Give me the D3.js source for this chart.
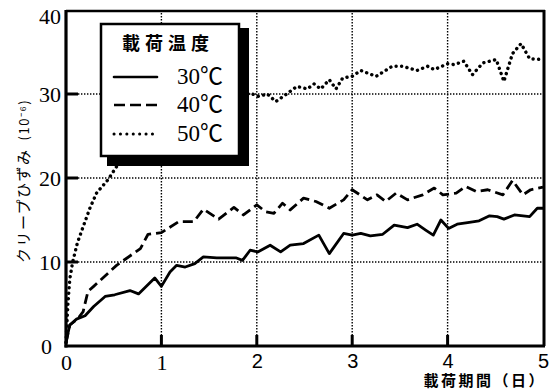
<!DOCTYPE html>
<html>
<head>
<meta charset="utf-8">
<script src="https://cdn.jsdelivr.net/npm/d3@7"></script>
<style>
  html, body { margin: 0; padding: 0; background: #fff; }
  svg { display: block; }
</style>
</head>
<body>
<svg id="chart" width="559" height="391"></svg>
<script>
// Creep strain (x10^-6) against loading period (days) at three temperatures
const days30 = [0, 0.02, 0.04, 0.11, 0.2, 0.29, 0.41, 0.51, 0.67, 0.76, 0.93, 1.0, 1.09, 1.16, 1.25, 1.35, 1.44, 1.58, 1.69, 1.78, 1.85, 1.93, 2.01, 2.14, 2.25, 2.35, 2.49, 2.65, 2.76, 2.91, 3.0, 3.09, 3.19, 3.32, 3.44, 3.58, 3.68, 3.77, 3.85, 3.93, 4.01, 4.10, 4.21, 4.33, 4.44, 4.52, 4.59, 4.70, 4.86, 4.94, 5.0];
const strain30 = [0.4, 1.5, 2.5, 3.2, 3.6, 4.7, 5.9, 6.1, 6.6, 6.2, 8.1, 7.1, 8.8, 9.6, 9.4, 9.8, 10.6, 10.5, 10.5, 10.5, 10.2, 11.4, 11.2, 12.0, 11.2, 12.0, 12.2, 13.2, 11.0, 13.4, 13.2, 13.4, 13.1, 13.3, 14.4, 14.1, 14.5, 13.8, 13.2, 15.0, 14.0, 14.5, 14.7, 14.9, 15.5, 15.4, 15.1, 15.6, 15.4, 16.4, 16.4];

const days40 = [0, 0.04, 0.12, 0.18, 0.23, 0.29, 0.53, 0.78, 0.86, 1.0, 1.18, 1.34, 1.44, 1.60, 1.76, 1.86, 2.0, 2.09, 2.18, 2.27, 2.35, 2.49, 2.62, 2.76, 2.91, 3.0, 3.16, 3.26, 3.35, 3.46, 3.58, 3.74, 3.86, 3.95, 4.09, 4.19, 4.30, 4.42, 4.58, 4.68, 4.79, 4.87, 5.0];
const strain40 = [0.4, 2.5, 3.2, 4.1, 6.5, 7.1, 9.6, 11.6, 13.3, 13.5, 14.8, 14.8, 16.3, 15.1, 16.5, 15.6, 16.8, 16.0, 15.8, 17.0, 16.2, 17.6, 17.2, 16.4, 17.4, 18.6, 17.4, 18.0, 17.2, 18.2, 17.4, 18.0, 18.8, 18.0, 18.2, 19.0, 18.4, 18.6, 18.0, 19.7, 18.0, 18.6, 18.9];

const days50 = [0, 0.02, 0.04, 0.07, 0.12, 0.18, 0.25, 0.32, 0.44, 0.55, 0.7, 0.85, 1.0, 1.2, 1.4, 1.6, 1.8, 1.93, 2.02, 2.11, 2.20, 2.30, 2.42, 2.53, 2.60, 2.67, 2.76, 2.83, 2.90, 3.0, 3.09, 3.25, 3.42, 3.53, 3.68, 3.79, 3.86, 4.0, 4.07, 4.17, 4.26, 4.37, 4.51, 4.59, 4.68, 4.77, 4.86, 5.0];
const strain50 = [0.4, 5.0, 8.0, 10.0, 12.3, 14.2, 16.4, 18.2, 19.8, 21.7, 23.5, 25.0, 26.3, 27.5, 28.4, 29.1, 29.7, 30.1, 29.7, 30.0, 29.1, 29.9, 30.9, 30.6, 31.2, 30.6, 31.7, 30.6, 31.9, 32.1, 32.8, 32.1, 33.3, 33.3, 32.8, 33.3, 32.9, 33.6, 33.5, 33.9, 32.3, 33.7, 34.1, 31.5, 34.8, 36.0, 34.2, 34.1];

const seriesNames = ["30℃", "40℃", "50℃"];
const xTicks = [0, 1, 2, 3, 4, 5];
const yTicks = [0, 10, 20, 30, 40];
const legendTitle = "載荷温度";
const xTitle = "載荷期間（日）";
const yTitle = "クリープひずみ";
const yUnit = "(10⁻⁶)";

const serif = "'Liberation Serif', 'Times New Roman', 'Noto Sans CJK JP', serif";
const sans = "'Liberation Sans', Arial, sans-serif";
const cjk = "'Noto Sans CJK JP', sans-serif";

const svg = d3.select("#chart");
const x = d3.scaleLinear().domain([0, 5]).range([66, 543]);
const y = d3.scaleLinear().domain([0, 40]).range([346, 10]);

// dotted grid
const grid = svg.append("g").attr("stroke", "#000").attr("stroke-width", 1.4)
  .attr("stroke-dasharray", "1.4,1.6");
grid.selectAll("line.v").data(xTicks.slice(1, -1)).join("line")
  .attr("x1", d => x(d)).attr("x2", d => x(d)).attr("y1", y(40)).attr("y2", y(0));
grid.selectAll("line.h").data(yTicks.slice(1, -1)).join("line")
  .attr("x1", x(0)).attr("x2", x(5)).attr("y1", d => y(d)).attr("y2", d => y(d));

// series
const series = [
  { days: days30, strain: strain30, dash: null, cap: "round" },
  { days: days40, strain: strain40, dash: "10,5", cap: "butt" },
  { days: days50, strain: strain50, dash: "0.1,5.4", cap: "round" }
];
const line = d3.line().x(d => x(d[0])).y(d => y(d[1]));
series.forEach(s => {
  svg.append("path")
    .datum(s.days.map((d, i) => [d, s.strain[i]]))
    .attr("d", line)
    .attr("fill", "none")
    .attr("stroke", "#000")
    .attr("stroke-width", s.dash && s.cap === "round" ? 3.4 : 2.8)
    .attr("stroke-linejoin", "round")
    .attr("stroke-linecap", s.cap)
    .attr("stroke-dasharray", s.dash);
});

// frame
const frame = svg.append("g").attr("stroke", "#000").attr("fill", "none");
frame.append("line").attr("x1", x(0)).attr("x2", x(5) + 2).attr("y1", y(40) + 1).attr("y2", y(40) + 1).attr("stroke-width", 2.5);
frame.append("line").attr("x1", x(5) + 1).attr("x2", x(5) + 1).attr("y1", y(40)).attr("y2", y(0)).attr("stroke-width", 3);
frame.append("line").attr("x1", x(0)).attr("x2", x(0)).attr("y1", y(40)).attr("y2", y(0) + 1.5).attr("stroke-width", 3.2);
frame.append("line").attr("x1", x(0) - 1.5).attr("x2", x(5) + 2).attr("y1", y(0)).attr("y2", y(0)).attr("stroke-width", 3.2);

// short inward ticks
frame.selectAll("line.tx").data(xTicks.slice(1, -1)).join("line")
  .attr("x1", d => x(d)).attr("x2", d => x(d)).attr("y1", y(0)).attr("y2", y(0) - 11).attr("stroke-width", 3);
frame.selectAll("line.ty").data(yTicks.slice(1, -1)).join("line")
  .attr("x1", x(0)).attr("x2", x(0) + 12).attr("y1", d => y(d)).attr("y2", d => y(d)).attr("stroke-width", 3);

// axes (labels only; lines drawn above)
const xAxis = svg.append("g").attr("transform", `translate(0,${y(0)})`)
  .call(d3.axisBottom(x).tickValues(xTicks).tickSize(0).tickFormat(d3.format("d")));
xAxis.select(".domain").remove();
xAxis.selectAll("text")
  .attr("y", d => d < 2 ? 24 : 22).attr("dy", 0)
  .attr("font-family", d => d < 2 ? serif : sans)
  .attr("font-size", d => d < 2 ? 22 : 20)
  .attr("fill", "#000");

const yAxis = svg.append("g").attr("transform", `translate(${x(0)},0)`)
  .call(d3.axisLeft(y).tickValues(yTicks).tickSize(0).tickFormat(d3.format("d")));
yAxis.select(".domain").remove();
yAxis.selectAll("text")
  .attr("x", d => d === 0 ? -14 : -5)
  .attr("dy", d => d === 40 ? "0.62em" : "0.36em")
  .attr("font-family", serif).attr("font-size", 22).attr("fill", "#000");

// axis titles
svg.append("text")
  .attr("x", 546).attr("y", 386).attr("text-anchor", "end")
  .attr("font-family", cjk).attr("font-size", 15).attr("font-weight", "bold")
  .attr("letter-spacing", 2.5)
  .text(xTitle);

const yt = svg.append("text")
  .attr("transform", "translate(29,263) rotate(-90)")
  .attr("font-family", cjk).attr("font-size", 15).attr("letter-spacing", 1.5);
yt.append("tspan").text(yTitle);
yt.append("tspan").attr("dx", 8).attr("font-size", 13).text(yUnit);

// legend with drop shadow
const lg = svg.append("g");
lg.append("rect").attr("x", 107).attr("y", 28).attr("width", 142).attr("height", 138).attr("fill", "#000");
lg.append("rect").attr("x", 101).attr("y", 24).attr("width", 138).attr("height", 132)
  .attr("fill", "#fff").attr("stroke", "#000").attr("stroke-width", 2.5);
lg.append("text").attr("x", 122).attr("y", 50)
  .attr("font-family", cjk).attr("font-size", 18).attr("font-weight", "bold").attr("letter-spacing", 5)
  .text(legendTitle);
const rows = [77, 105, 134];
series.forEach((s, i) => {
  lg.append("line").attr("x1", 114).attr("x2", 157).attr("y1", rows[i]).attr("y2", rows[i])
    .attr("stroke", "#000").attr("stroke-width", s.dash && s.cap === "round" ? 3 : 2.6)
    .attr("stroke-linecap", s.cap)
    .attr("stroke-dasharray", s.dash ? (s.cap === "round" ? "0.1,6.3" : "11,5") : null);
  lg.append("text").attr("x", 177).attr("y", rows[i] + 7)
    .attr("font-family", serif).attr("font-size", 23)
    .text(seriesNames[i]);
});
</script>
</body>
</html>
